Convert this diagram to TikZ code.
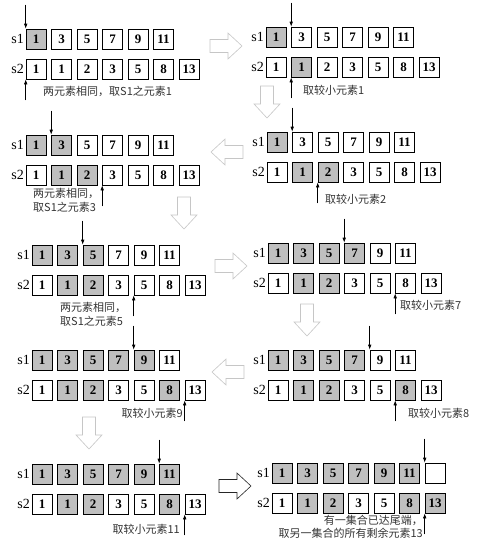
\documentclass[tikz,border=0pt]{standalone}
\usepackage{fontspec}
\setmainfont{Liberation Serif}
\newfontfamily\cjk{Noto Sans CJK SC}
\usetikzlibrary{arrows.meta}

\tikzstyle{cell}=[draw, line width=0.6pt, minimum size=20pt, inner sep=0pt,
	font=\bfseries\fontsize{13}{13}\selectfont]
\tikzstyle{w}=[cell, fill=white]
\tikzstyle{g}=[cell, fill=gray!50]
\tikzstyle{setname}=[font=\fontsize{14}{14}\selectfont, inner sep=1pt]
\tikzstyle{note}=[font=\cjk\fontsize{11}{14}\selectfont, text=black!80, inner sep=0pt]
\tikzstyle{ptr}=[line width=0.6pt, -{Latex[length=5pt,width=3.5pt]}]
\tikzstyle{flow}=[draw=gray!45, fill=white, line width=0.6pt]
\tikzstyle{flowlast}=[draw=black!85, fill=white, line width=0.6pt]

% one step: name, origin, s1 cells, s2 cells
\newcommand{\drawsets}[4]{%
	\begin{scope}[shift={#2}]
		\node[setname, anchor=east] (#1n1) at (-1,10) {s1};
		\node[setname, anchor=east] (#1n2) at (-1,40) {s2};
		\foreach \v/\s [count=\i from 0] in {#3}
			\node[\s] (#1a\i) at ({10+25.5*\i},10) {\v};
		\foreach \v/\s [count=\i from 0] in {#4}
			\node[\s] (#1b\i) at ({10+25.5*\i},40) {\v};
	\end{scope}}

% hollow block arrow: centre, angle, style
\newcommand{\flowarrow}[3]{%
	\draw[#3, shift={#1}, rotate=#2] (-16,-6.5) -- (2,-6.5) -- (2,-13) -- (16,0)
		-- (2,13) -- (2,6.5) -- (-16,6.5) -- cycle;}

\begin{document}
\begin{tikzpicture}[x=1pt, y=-1pt]
	\useasboundingbox (0,0) rectangle (479,557);

	% % Steps
	\drawsets{p1}{(26,29)}{1/g,3/w,5/w,7/w,9/w,11/w}{1/w,1/w,2/w,3/w,5/w,8/w,13/w}
	\drawsets{p2}{(266,27)}{1/g,3/w,5/w,7/w,9/w,11/w}{1/w,1/g,2/w,3/w,5/w,8/w,13/w}
	\drawsets{p3}{(26,135)}{1/g,3/g,5/w,7/w,9/w,11/w}{1/w,1/g,2/g,3/w,5/w,8/w,13/w}
	\drawsets{p4}{(267,132)}{1/g,3/w,5/w,7/w,9/w,11/w}{1/w,1/g,2/g,3/w,5/w,8/w,13/w}
	\drawsets{p5}{(32,245)}{1/g,3/g,5/g,7/w,9/w,11/w}{1/w,1/g,2/g,3/w,5/w,8/w,13/w}
	\drawsets{p6}{(268,243)}{1/g,3/g,5/g,7/g,9/w,11/w}{1/w,1/g,2/g,3/w,5/w,8/w,13/w}
	\drawsets{p7}{(32,350)}{1/g,3/g,5/g,7/g,9/g,11/w}{1/w,1/g,2/g,3/w,5/w,8/g,13/w}
	\drawsets{p8}{(268,350)}{1/g,3/g,5/g,7/g,9/w,11/w}{1/w,1/g,2/g,3/w,5/w,8/g,13/w}
	\drawsets{p9}{(32,464)}{1/g,3/g,5/g,7/g,9/g,11/g}{1/w,1/g,2/g,3/w,5/w,8/g,13/w}
	\drawsets{p10}{(272,463)}{1/g,3/g,5/g,7/g,9/g,11/g,/w}{1/w,1/g,2/g,3/w,5/w,8/g,13/g}

	% % Pointers
	\foreach \p/\i/\j in {p1/0/0, p2/1/1, p3/1/3, p4/1/2, p5/2/4,
		p6/3/5, p7/4/6, p8/4/5, p9/5/6, p10/6/6} {
		\coordinate (\p t) at ([yshift=24pt]\p a\i.north west);
		\draw[ptr] (\p t) -- (\p a\i.north west);
		\coordinate (\p u) at ([yshift=-21pt]\p b\j.south west);
		\draw[ptr] (\p u) -- (\p b\j.south west);
	}

	% % Notes
	\node[note, anchor=west] (c1) at (43,91) {两元素相同，取S1之元素1};
	\node[note, anchor=west] (c2) at (303,90) {取较小元素1};
	\node[note, anchor=north west, align=left] (c3) at (33,188) {两元素相同，\\取S1之元素3};
	\node[note, anchor=north west, align=left] (c5) at (60,302) {两元素相同，\\取S1之元素5};
	\node[note, anchor=west] (c4) at (325,199) {取较小元素2};
	\node[note, anchor=west] (c6) at (400,305) {取较小元素7};
	\node[note, anchor=east] (c7) at (183,413) {取较小元素9};
	\node[note, anchor=west] (c8) at (408,413) {取较小元素8};
	\node[note, anchor=east] (c9) at (180,529) {取较小元素11};
	\node[note, anchor=north east, align=right, font=\cjk\fontsize{11}{13.5}\selectfont]
		(c10) at (423,515) {有一集合已达尾端，\\取另一集合的所有剩余元素13};

	% % Block arrows
	\foreach \x/\y/\a in {226/46/0, 267/102/-90, 227/152/180, 184/213/-90,
		231/266/0, 307/320/-90, 228/372/180, 89/433/-90} {
		\flowarrow{(\x,\y)}{\a}{flow}
	}
	\flowarrow{(235,486)}{0}{flowlast}

\end{tikzpicture}
\end{document}
